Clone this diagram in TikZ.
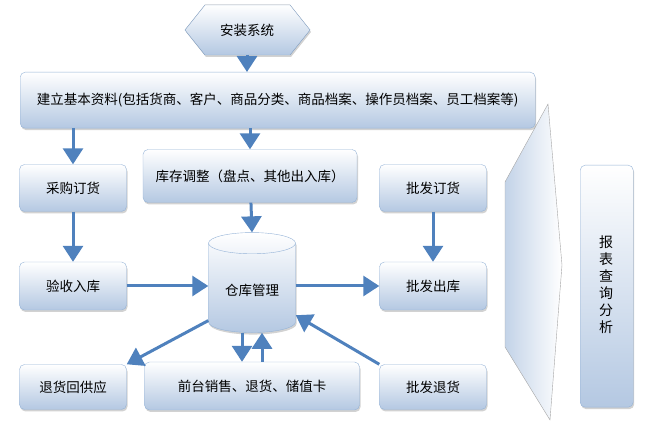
\documentclass[tikz,border=0pt]{standalone}
\usepackage{fontspec}
\setmainfont{Noto Sans CJK SC}
\usetikzlibrary{shapes.geometric,shadows,arrows.meta}
\definecolor{arr}{HTML}{4F81BD}
\definecolor{lb}{HTML}{B4C8E2}
\definecolor{edge}{HTML}{95B3D7}
\begin{document}
\begin{tikzpicture}[x=1pt,y=-1pt,
  box/.style={draw=edge,top color=white,bottom color=lb,rounded corners=5pt,drop shadow={shadow xshift=1pt,shadow yshift=-2pt,fill=gray!70},font=\fontsize{13.5}{15}\selectfont,inner sep=0pt},
  ar/.style={draw=arr,line width=3pt,-{Triangle[width=20pt,length=16pt]}}]
\useasboundingbox (0,0) rectangle (646,427);
% right chevron
\draw[draw=gray!70,left color=lb!80,right color=white]
 (505,182) -- (548,104) -- (562,265) -- (550,420) -- (505,347) -- cycle;
\node[box,minimum width=53,minimum height=242,anchor=north west] (rep) at (580,165) {};
\node[font=\fontsize{14}{17}\selectfont,align=center] (rept) at (606,285) {报\\表\\查\\询\\分\\析};
\fill[draw=edge,top color=white,bottom color=lb,drop shadow={shadow xshift=1pt,shadow yshift=-2pt,fill=gray!70}] (185,30)--(205,5)--(290,5)--(310,30)--(290,55)--(205,55)--cycle;
\node[font=\fontsize{13.5}{15}\selectfont] (inst) at (247,30) {安装系统};
\coordinate (instb) at (247,55);
\node[box,minimum width=515,minimum height=56,anchor=north west] (base) at (20,72) {};
\node[font=\fontsize{13.5}{15}\selectfont] at (base) {建立基本资料(包括货商、客户、商品分类、商品档案、操作员档案、员工档案等)};
\node[box,minimum width=107,minimum height=47] (cg) at (73,188) {采购订货};
\node[box,minimum width=214,minimum height=53] (kc) at (250,176) {库存调整（盘点、其他出入库）};
\node[box,minimum width=107,minimum height=47] (pd) at (433,188) {批发订货};
\node[box,minimum width=107,minimum height=48] (ys) at (73,286) {验收入库};
\node[box,minimum width=107,minimum height=48] (pc) at (433,286) {批发出库};
\node[box,minimum width=107,minimum height=45] (th) at (73,387) {退货回供应};
\node[box,minimum width=215,minimum height=48] (qt) at (252,386) {前台销售、退货、储值卡};
\node[box,minimum width=107,minimum height=45] (pt) at (433,387) {批发退货};
\node[cylinder,shape border rotate=90,aspect=0.35,draw=edge,top color=white,bottom color=lb,minimum width=87,minimum height=100,drop shadow={shadow xshift=1pt,shadow yshift=-2pt,fill=gray!70},font=\fontsize{13.5}{15}\selectfont] (ck) at (252,290) {仓库管理};
% arrows
\draw[ar] (instb) -- (base.north-|instb);
\draw[ar] (base.south-|cg) -- (cg.north);
\draw[ar] (base.south-|kc.north) -- (kc.north);
\draw[ar] (cg) -- (ys);
\draw[ar] (kc) -- (ck.north);
\draw[ar] (pd) -- (pc);
\draw[ar] (ys) -- (ck.west|-ys);
\draw[ar] (ck.east|-pc) -- (pc);
\draw[ar] (ck.215) -- (th.north east);
\draw[ar] ([xshift=-10pt]ck.south) -- ([xshift=-10pt]qt.north);
\draw[ar] ([xshift=10pt]qt.north) -- ([xshift=10pt]ck.south);
\draw[ar] (pt.north west) -- (ck.330);
\end{tikzpicture}
\end{document}
